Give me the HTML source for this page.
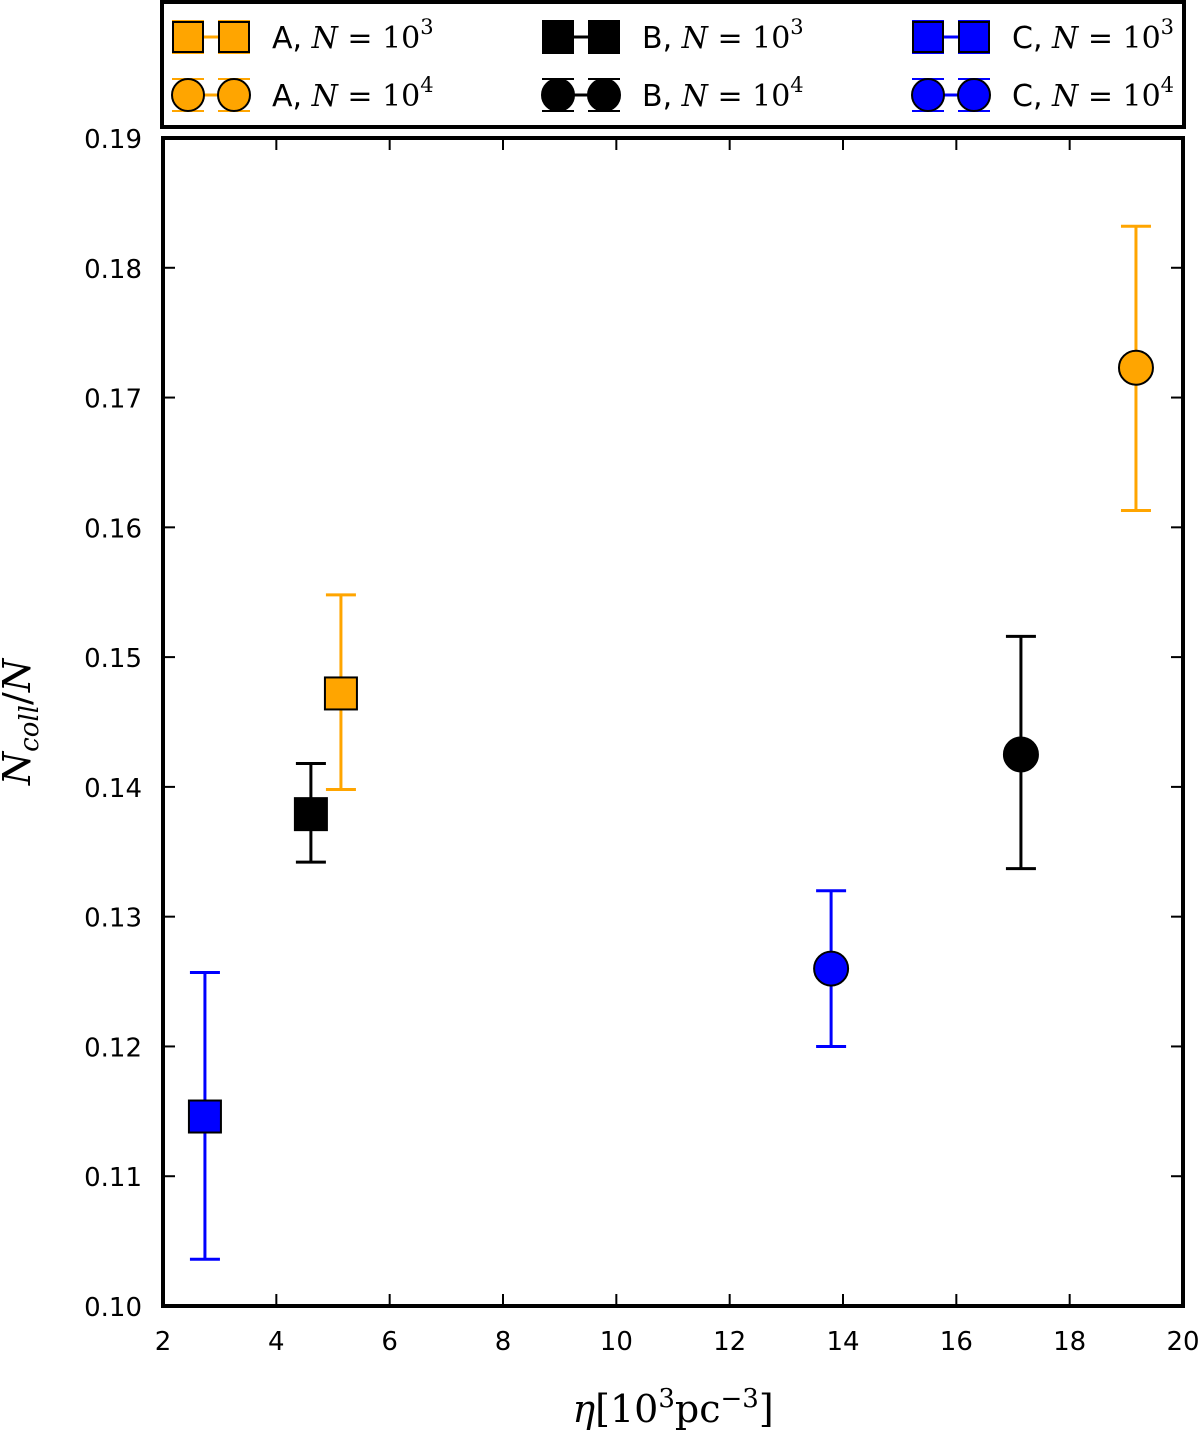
<!DOCTYPE html>
<html><head><meta charset="utf-8"><style>
body{margin:0;background:#fff}
svg{display:block;font-family:"DejaVu Sans","Liberation Sans",sans-serif}
.m{font-family:"DejaVu Serif","Liberation Serif",serif;font-style:italic}
.r{font-family:"DejaVu Serif","Liberation Serif",serif}
</style></head><body>
<svg id="c" width="1200" height="1434" viewBox="0 0 1200 1434">
<rect x="162" y="2" width="1022" height="125" fill="none" stroke="#000" stroke-width="4"/>
<rect x="163" y="138" width="1020" height="1168" fill="none" stroke="#000" stroke-width="4"/>
<g id="axes"></g>
<g id="marks"></g>
<g id="legend"></g>
<text x="30" y="722" font-size="38" class="m" transform="rotate(-90 30 722)" text-anchor="middle">N<tspan font-size="26" dy="8">coll</tspan><tspan dy="-8" font-style="normal">/</tspan>N</text>
<text x="673" y="1422" font-size="38" text-anchor="middle" class="r"><tspan font-style="italic">η</tspan>[10<tspan font-size="26" dy="-15">3</tspan><tspan dy="15">pc</tspan><tspan font-size="26" dy="-15">−3</tspan><tspan dy="15">]</tspan></text>
</svg>
<script>
const xTicks=[2,4,6,8,10,12,14,16,18,20];
const yTicks=[0.10,0.11,0.12,0.13,0.14,0.15,0.16,0.17,0.18,0.19];
const seriesNames=["A-1e3","B-1e3","C-1e3","A-1e4","B-1e4","C-1e4"];
const seriesColors=["#ffa500","#000000","#0000ff","#ffa500","#000000","#0000ff"];
const seriesShapes=["square","square","square","circle","circle","circle"];
const xVals=[5.14,4.61,2.74,19.17,17.14,13.79];
const yVals=[0.1472,0.1379,0.1146,0.1723,0.1425,0.1260];
const yLow=[0.1398,0.1342,0.1036,0.1613,0.1337,0.1200];
const yHigh=[0.1548,0.1418,0.1257,0.1832,0.1516,0.1320];
const legendLabels=["A","B","C"];
const NS="http://www.w3.org/2000/svg";
const X=v=>163+(v-2)/18*1020;
const Y=v=>1306-(v-0.10)/0.09*1168;
function mk(t,a,p){const e=document.createElementNS(NS,t);for(const k in a)e.setAttribute(k,a[k]);p.appendChild(e);return e;}
const ax=document.getElementById('axes');
xTicks.forEach(t=>{
 const x=X(t);
 const l=mk('line',{x1:x,x2:x,y1:1306,y2:1294,stroke:'#000','stroke-width':2},ax);
 
 
 const l2=mk('line',{x1:x,x2:x,y1:138,y2:150,stroke:'#000','stroke-width':2},ax);
 
 
 const tx=mk('text',{x:x,y:1350,'font-size':26,'text-anchor':'middle'},ax);tx.textContent=t;
 
 
});
yTicks.forEach(t=>{
 const y=Y(t);
 const l=mk('line',{x1:163,x2:175,y1:y,y2:y,stroke:'#000','stroke-width':2},ax);
 
 
 const l2=mk('line',{x1:1171,x2:1183,y1:y,y2:y,stroke:'#000','stroke-width':2},ax);
 
 
 const tx=mk('text',{x:142,y:y+10,'font-size':26,'text-anchor':'end'},ax);tx.textContent=t.toFixed(2);
 
 
});
function marker(g,shape,cx,cy,col,s){
 if(shape==='square')return mk('rect',{x:cx-s,y:cy-s,width:2*s,height:2*s,fill:col,stroke:'#000','stroke-width':2},g);
 return mk('circle',{cx:cx,cy:cy,r:s+1,fill:col,stroke:'#000','stroke-width':2},g);
}
const mg=document.getElementById('marks');
seriesNames.forEach((n,i)=>{
 const g=mk('g',{},mg);
 
 
 const x=X(xVals[i]),c=seriesColors[i];
 mk('line',{x1:x,x2:x,y1:Y(yLow[i]),y2:Y(yHigh[i]),stroke:c,'stroke-width':3},g);
 mk('line',{x1:x-15,x2:x+15,y1:Y(yLow[i]),y2:Y(yLow[i]),stroke:c,'stroke-width':3},g);
 mk('line',{x1:x-15,x2:x+15,y1:Y(yHigh[i]),y2:Y(yHigh[i]),stroke:c,'stroke-width':3},g);
 const m=marker(g,seriesShapes[i],x,Y(yVals[i]),c,16);
 
 
});
const lg=document.getElementById('legend');
const colX=[172,542,912];
seriesNames.forEach((n,i)=>{
 const col=i%3,row=Math.floor(i/3);
 const x0=colX[col],y=row?95:37,c=seriesColors[i];
 const g=mk('g',{},lg);
 
 
 mk('line',{x1:x0+16,x2:x0+62,y1:y,y2:y,stroke:c,'stroke-width':3},g);
 [x0+16,x0+62].forEach(cx=>{
  mk('line',{x1:cx-16,x2:cx+16,y1:y-16,y2:y-16,stroke:c,'stroke-width':2},g);
  mk('line',{x1:cx-16,x2:cx+16,y1:y+16,y2:y+16,stroke:c,'stroke-width':2},g);
  marker(g,seriesShapes[i],cx,y,c,15);
 });
 const t=mk('text',{x:x0+100,y:y+11,'font-size':30},g);
 t.innerHTML=legendLabels[col]+', <tspan class="m">N</tspan><tspan class="r"> = 10</tspan><tspan class="r" font-size="21" dy="-14">'+(row?4:3)+'</tspan>';
});
</script>
</body></html>
